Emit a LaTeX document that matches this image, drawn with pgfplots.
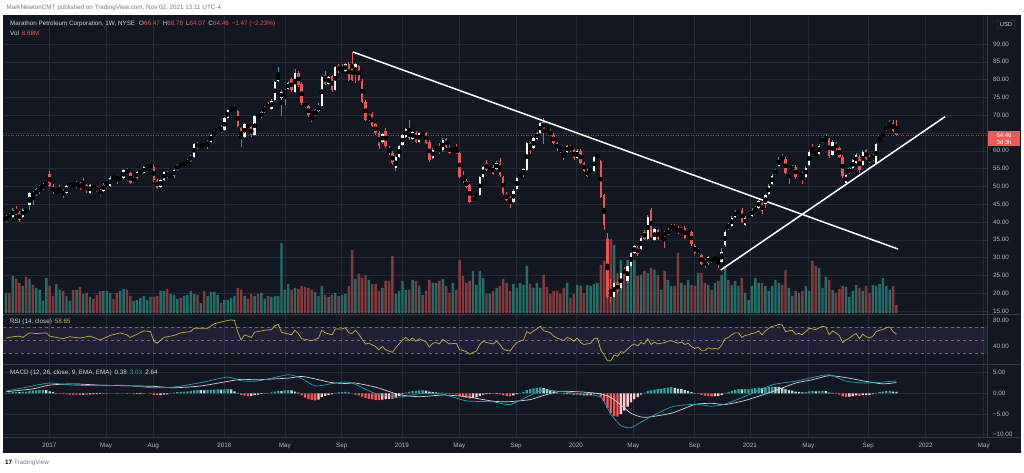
\documentclass[border=0pt]{standalone}
\usepackage{fontspec}
\setmainfont{Liberation Sans}
\usepackage{pgfplots}
\pgfplotsset{compat=1.18}
\usepackage{pgfplotstable}

\definecolor{bg}{HTML}{131722}
\definecolor{gridc}{HTML}{252935}
\definecolor{sep}{HTML}{363A45}
\definecolor{txt}{HTML}{B2B5BE}
\definecolor{hdr}{HTML}{D1D4DC}
\definecolor{upc}{HTML}{26A69A}
\definecolor{upbody}{HTML}{F4F9F8}
\definecolor{dnc}{HTML}{EF5350}
\definecolor{volup}{HTML}{22706A}
\definecolor{voldn}{HTML}{873A3C}
\definecolor{rsic}{HTML}{C2B23A}
\definecolor{rsipurple}{HTML}{7E57C2}
\definecolor{dashc}{HTML}{6A6D78}
\definecolor{macdc}{HTML}{1FA2B8}
\definecolor{sigc}{HTML}{D5D5D5}
\definecolor{hA}{HTML}{26A69A}
\definecolor{hB}{HTML}{B2DFDB}
\definecolor{hC}{HTML}{FF5252}
\definecolor{hD}{HTML}{FFCDD2}
\definecolor{lastp}{HTML}{A23A3E}
\definecolor{pbox}{HTML}{F05A59}
\definecolor{tvgray}{HTML}{787B86}

\pgfplotstableread{
i o h l c v
0 40.6 41.9 40.1 41.3 20
1 41.9 42.5 40.8 41.3 20
2 41.5 44.0 41.2 43.5 37
3 43.5 44.4 41.9 42.3 34
4 42.5 43.0 39.9 40.6 30
5 41.5 43.9 41.2 43.5 27
6 43.3 43.6 42.6 43.0 36
7 44.8 48.5 43.5 48.1 34
8 48.0 48.6 44.8 47.5 28
9 47.9 49.6 47.3 49.2 25
10 49.4 50.3 47.8 49.8 23
11 49.5 50.9 49.1 50.5 12
12 50.5 51.2 50.0 50.8 35
13 53.6 54.4 49.7 50.0 27
14 50.0 50.6 47.8 48.3 17
15 48.4 49.1 47.9 48.7 29
16 48.7 50.3 48.3 48.9 23
17 48.9 49.3 46.8 47.7 22
18 48.2 50.4 47.9 50.0 17
19 50.0 50.8 49.6 50.3 12
20 50.4 50.9 49.8 50.2 23
21 50.0 51.4 49.6 51.0 23
22 50.9 51.2 49.0 49.6 26
23 50.0 52.4 49.6 50.5 19
24 50.3 50.7 48.1 48.6 20
25 48.2 50.8 48.0 50.4 16
26 50.5 50.9 49.5 49.9 14
27 49.8 50.2 48.4 48.8 18
28 48.8 49.2 47.2 48.0 22
29 48.8 50.9 48.5 50.5 22
30 50.5 51.5 50.1 51.0 22
31 50.0 52.9 49.8 52.5 20
32 52.5 53.3 51.7 52.2 14
33 52.8 53.1 50.8 52.2 20
34 52.0 52.8 51.7 52.4 22
35 52.3 54.8 52.0 54.5 24
36 54.6 55.2 53.4 53.8 23
37 53.7 54.0 50.6 51.0 17
38 51.3 52.7 50.9 52.3 12
39 52.3 54.3 52.0 54.0 13
40 54.0 54.6 53.5 54.1 15
41 53.8 55.7 53.5 55.4 17
42 55.5 56.6 55.1 55.6 13
43 55.7 56.2 55.2 55.8 16
44 55.5 56.0 51.3 51.8 16
45 51.8 52.2 49.2 49.6 17
46 49.8 52.2 49.5 51.8 22
47 51.8 54.3 51.5 54.0 22
48 53.8 54.2 52.3 52.8 24
49 52.9 53.4 52.4 53.0 19
50 52.8 55.0 52.5 54.6 18
51 54.6 56.3 54.3 56.0 14
52 56.2 56.5 55.5 55.9 15
53 55.9 56.9 55.6 56.5 17
54 56.4 57.6 56.1 57.2 18
55 57.2 58.9 56.9 58.5 22
56 58.4 62.3 58.1 61.9 19
57 62.0 62.6 60.6 61.0 18
58 61.3 62.0 60.8 61.5 10
59 62.0 62.3 60.8 61.3 22
60 61.6 62.9 60.5 62.5 17
61 62.6 64.7 62.3 64.4 21
62 64.4 65.6 64.1 65.3 21
63 65.5 66.5 65.2 66.2 18
64 66.2 67.2 65.1 65.5 10
65 65.8 69.4 65.5 69.1 13
66 69.1 71.7 68.8 71.4 13
67 71.4 72.4 71.1 71.6 15
68 71.6 72.9 71.2 71.8 17
69 71.3 71.6 66.6 67.0 25
70 66.3 66.7 61.0 63.5 23
71 64.0 67.9 63.7 67.5 17
72 67.2 67.6 66.2 66.6 14
73 66.6 66.9 64.0 64.4 19
74 64.4 70.0 64.1 69.7 17
75 69.9 70.3 69.1 69.5 19
76 69.4 71.2 69.1 70.9 20
77 70.9 72.6 70.6 72.3 14
78 72.5 73.6 71.4 71.8 17
79 71.8 74.6 71.5 74.1 16
80 74.3 79.7 74.0 79.4 17
81 79.7 83.6 79.4 81.3 17
82 74.7 77.2 69.9 76.6 70
83 76.0 77.5 73.0 77.0 23
84 77.3 79.5 77.0 79.1 29
85 80.1 80.5 76.6 77.0 23
86 76.6 83.0 76.3 81.9 25
87 81.9 82.3 78.0 78.4 24
88 78.8 79.2 72.9 73.3 27
89 73.3 73.7 72.1 72.5 26
90 72.5 72.9 69.6 70.0 25
91 69.9 70.3 68.0 69.8 23
92 70.0 71.8 69.7 71.4 21
93 71.3 73.4 71.0 72.5 17
94 72.6 80.9 72.3 80.6 27
95 81.2 82.5 78.5 78.9 18
96 78.9 80.9 78.6 80.6 16
97 81.0 81.4 76.5 77.0 18
98 77.1 83.9 76.8 83.6 20
99 83.8 84.3 81.9 82.3 17
100 82.3 84.4 81.8 82.5 18
101 82.3 84.8 82.0 84.4 19
102 84.4 85.0 79.6 80.0 27
103 84.0 87.8 79.5 80.0 63
104 81.3 84.8 79.0 84.4 34
105 83.8 84.2 79.6 80.0 39
106 79.7 80.1 73.4 73.8 35
107 73.8 74.2 68.3 68.7 38
108 69.0 70.2 68.5 69.3 33
109 70.3 70.8 66.6 67.0 29
110 67.5 67.9 64.4 64.9 29
111 65.1 65.5 60.5 61.3 22
112 62.4 65.1 62.0 64.7 25
113 65.6 66.4 60.8 61.3 32
114 60.9 61.3 58.8 59.3 32
115 59.5 59.9 56.0 56.5 57
116 55.1 58.5 54.2 58.2 19
117 58.3 61.6 58.0 61.3 22
118 61.6 64.7 61.3 64.4 32
119 64.0 66.3 63.7 66.0 23
120 65.6 68.6 63.1 63.5 23
121 63.3 65.7 63.0 65.4 33
122 65.1 65.5 62.2 62.6 32
123 62.6 65.3 62.3 64.9 27
124 64.7 65.0 64.2 64.6 18
125 64.9 65.3 61.9 62.3 22
126 62.6 63.0 56.9 57.4 33
127 57.9 60.7 57.6 60.3 30
128 60.6 61.2 60.2 60.8 30
129 60.8 62.3 59.2 59.6 32
130 60.1 63.5 59.8 63.1 34
131 63.3 63.7 60.8 61.2 27
132 61.2 61.6 59.1 59.5 20
133 60.0 60.6 59.6 60.2 30
134 60.3 61.9 59.2 59.6 23
135 59.3 59.7 52.3 52.7 53
136 52.4 54.2 50.9 51.8 37
137 51.6 52.0 49.5 49.9 30
138 50.4 50.8 45.3 45.7 32
139 46.0 47.3 45.6 46.9 42
140 47.3 48.2 47.0 47.8 28
141 47.6 53.0 47.3 52.7 42
142 52.7 55.8 52.4 55.5 35
143 56.6 57.4 54.2 54.6 19
144 54.8 55.7 54.4 55.3 19
145 55.5 55.9 53.2 53.6 22
146 54.9 57.0 54.6 56.5 25
147 56.3 57.9 52.7 53.1 27
148 52.6 53.0 47.7 48.1 34
149 48.0 48.4 45.9 46.3 30
150 47.0 47.4 44.0 45.4 22
151 45.6 49.2 45.3 48.8 29
152 49.3 52.6 49.0 52.3 25
153 52.4 53.6 52.1 53.2 30
154 53.4 55.1 52.7 54.8 28
155 54.6 62.4 54.3 62.1 47
156 62.1 62.5 59.0 60.7 29
157 60.7 63.8 60.4 63.5 25
158 63.3 65.4 63.0 65.1 30
159 65.1 68.0 64.8 67.7 25
160 68.2 69.2 62.0 66.1 38
161 66.6 67.0 65.5 65.9 26
162 65.4 66.0 64.1 64.5 19
163 64.5 64.9 61.8 62.2 22
164 62.2 62.6 60.0 60.4 22
165 60.8 61.2 59.5 59.9 19
166 59.3 59.7 57.5 58.6 25
167 59.7 61.7 59.4 61.3 30
168 61.3 61.7 59.8 60.2 15
169 60.2 60.6 57.5 57.9 19
170 57.9 60.4 57.6 60.0 28
171 60.0 60.4 56.2 56.6 27
172 56.5 56.9 54.0 54.4 20
173 53.0 54.8 52.6 54.4 28
174 54.4 55.0 54.0 54.6 27
175 54.4 58.6 54.1 58.3 29
176 58.3 59.4 57.9 58.8 30
177 57.0 57.4 46.7 47.1 48
178 47.6 48.0 37.7 39.2 52
179 35.1 36.9 18.5 19.0 75
180 20.5 24.0 17.2 18.6 74
181 19.0 23.5 18.6 23.0 68
182 22.8 23.5 20.0 20.5 40
183 21.4 26.0 21.0 25.6 53
184 26.8 27.4 24.8 25.2 43
185 23.4 28.0 23.0 27.6 53
186 27.6 31.7 27.3 31.3 47
187 31.3 33.6 31.0 33.2 53
188 32.8 33.4 30.5 30.9 37
189 32.3 36.0 32.0 35.6 38
190 37.2 37.8 34.9 35.3 42
191 35.3 41.9 35.0 41.5 40
192 43.4 43.9 35.4 35.8 45
193 35.0 38.3 34.6 37.9 43
194 37.7 38.1 34.9 35.3 38
195 35.6 36.4 35.2 35.9 23
196 37.2 37.6 32.7 36.1 42
197 36.6 38.3 36.3 37.9 33
198 38.1 39.4 37.8 38.9 27
199 38.4 39.4 37.5 37.9 27
200 38.4 38.8 36.5 36.9 60
201 37.1 38.5 36.8 38.1 30
202 38.4 38.8 35.2 35.6 28
203 36.8 37.3 36.4 36.9 33
204 37.2 37.6 33.4 33.8 28
205 33.3 33.7 31.0 31.4 27
206 31.4 32.7 31.0 32.3 40
207 30.7 31.1 27.8 28.2 40
208 29.2 29.6 27.1 28.2 30
209 28.4 30.5 28.0 30.1 28
210 29.9 30.3 28.5 28.9 23
211 29.6 30.2 29.2 29.8 30
212 29.6 30.0 27.2 29.2 32
213 28.7 32.8 28.4 31.5 38
214 33.5 37.7 33.1 37.3 47
215 39.3 39.8 37.7 38.1 33
216 38.9 41.6 38.6 41.2 28
217 41.5 43.5 41.2 43.1 32
218 42.4 43.5 42.1 43.1 27
219 43.4 43.8 39.6 40.0 35
220 39.3 41.6 39.0 41.2 20
221 41.5 42.5 41.2 42.1 13
222 41.8 43.8 41.5 43.4 27
223 43.1 44.4 42.8 44.0 35
224 44.0 46.3 43.7 45.9 30
225 45.3 45.7 42.3 43.1 30
226 45.0 48.0 44.0 47.6 27
227 47.8 50.6 47.5 50.2 22
228 50.7 53.4 50.4 53.0 27
229 53.6 54.8 53.3 54.4 33
230 55.7 58.4 55.4 57.4 30
231 57.8 59.0 57.1 57.5 28
232 57.8 58.2 53.4 53.8 43
233 53.8 55.0 50.7 54.6 25
234 54.6 55.9 54.3 55.5 17
235 55.5 55.9 52.2 52.6 22
236 53.2 54.2 52.9 53.8 20
237 53.6 54.0 50.8 52.7 22
238 52.7 55.7 52.4 55.3 27
239 56.0 60.1 55.7 59.7 22
240 60.1 61.8 59.2 59.6 52
241 59.6 60.0 58.6 59.0 47
242 59.2 61.8 58.9 61.4 45
243 62.6 63.8 62.3 63.4 25
244 63.0 64.6 62.6 63.2 36
245 63.2 63.6 58.1 58.5 33
246 58.8 62.9 58.5 62.5 23
247 62.1 62.5 60.3 60.7 20
248 60.7 61.1 58.0 58.4 24
249 58.4 58.8 52.5 52.9 27
250 51.0 53.6 50.6 53.2 26
251 53.7 55.5 53.4 55.1 16
252 55.1 57.7 54.8 57.3 22
253 56.5 59.3 56.2 58.9 28
254 58.4 58.8 53.8 54.6 25
255 56.0 60.1 55.7 59.7 22
256 60.1 60.5 57.4 57.8 27
257 58.3 58.7 56.5 56.9 20
258 57.4 59.2 57.1 58.8 28
259 56.7 62.2 56.4 61.8 27
260 62.8 63.9 62.5 63.5 29
261 64.1 65.3 63.8 64.9 35
262 66.0 67.2 65.7 66.8 27
263 66.8 68.6 66.5 67.4 23
264 67.7 68.6 65.2 65.6 27
265 66.47 68.78 64.07 64.46 8
}\candles

\pgfplotsset{
  tvbase/.style={
    scale only axis, width=984pt, xmin=-0.89, xmax=291.96,
    axis line style={draw=none}, tick style={draw=none}, major tick length=0pt,
    xtick={12.9,29.8,43.8,65.0,83.0,99.9,117.8,134.9,151.8,169.6,186.7,204.9,221.4,238.8,256.6,273.7,291.0},
    xmajorgrids=true, major grid style={draw=gridc, line width=0.6pt},
    yticklabel pos=right,
    ticklabel style={font=\fontsize{6.3}{7}\selectfont, text=txt},
    yticklabel style={anchor=west, xshift=2.5pt},
  },
  ovl/.style={hide axis, scale only axis, width=984pt, xmin=-0.89, xmax=291.96},
  upsel/.style={restrict expr to domain={\thisrow{c}-\thisrow{o}}{0:1000}},
  dnsel/.style={restrict expr to domain={\thisrow{c}-\thisrow{o}}{-1000:-0.0001}},
}

\begin{document}
\begin{tikzpicture}
\useasboundingbox (0,0) rectangle (1024pt,473pt);
\fill[white] (0,0) rectangle (1024pt,473pt);
\fill[bg] (3pt,20pt) rectangle (1021pt,458pt);

% ---------- price panel grid ----------
\begin{axis}[tvbase, at={(3pt,458pt)}, anchor=north west, height=300pt,
  ymin=13.88, ymax=98.15, ymajorgrids=true,
  ytick={15,20,25,30,35,40,45,50,55,60,65,70,75,80,85,90},
  yticklabels={15.00,20.00,25.00,30.00,35.00,40.00,45.00,50.00,55.00,60.00,,70.00,75.00,80.00,85.00,90.00},
  xticklabels={}]
\addplot[lastp, dash pattern=on 1pt off 1.5pt, line width=0.7pt] coordinates {(-0.89,64.46) (291.96,64.46)};
\end{axis}

% ---------- volume ----------
\begin{axis}[ovl, at={(3pt,458pt)}, anchor=north west, height=300pt, ymin=-2, ymax=298]
\addplot[ybar, bar width=2.4pt, bar shift=0pt, fill=volup, draw=none, upsel] table[x=i, y=v] {\candles};
\addplot[ybar, bar width=2.4pt, bar shift=0pt, fill=voldn, draw=none, dnsel] table[x=i, y=v] {\candles};
\end{axis}

% ---------- candles ----------
\begin{axis}[ovl, at={(3pt,458pt)}, anchor=north west, height=300pt, ymin=13.88, ymax=98.15]
% wicks
\addplot[only marks, mark=none, upsel,
  error bars/.cd, y dir=both, y explicit, error mark=none,
  error bar style={color=upc, line width=0.7pt}]
  table[x=i, y expr={(\thisrow{h}+\thisrow{l})/2}, y error expr={(\thisrow{h}-\thisrow{l})/2}] {\candles};
\addplot[only marks, mark=none, dnsel,
  error bars/.cd, y dir=both, y explicit, error mark=none,
  error bar style={color=dnc, line width=0.7pt}]
  table[x=i, y expr={(\thisrow{h}+\thisrow{l})/2}, y error expr={(\thisrow{h}-\thisrow{l})/2}] {\candles};
% bodies
\addplot[only marks, mark=none, upsel,
  error bars/.cd, y dir=both, y explicit, error mark=none,
  error bar style={color=upbody, line width=2.4pt}]
  table[x=i, y expr={(\thisrow{o}+\thisrow{c})/2}, y error expr={max(abs(\thisrow{c}-\thisrow{o})/2,0.15)}] {\candles};
\addplot[only marks, mark=none, dnsel,
  error bars/.cd, y dir=both, y explicit, error mark=none,
  error bar style={color=dnc, line width=2.4pt}]
  table[x=i, y expr={(\thisrow{o}+\thisrow{c})/2}, y error expr={max(abs(\thisrow{c}-\thisrow{o})/2,0.15)}] {\candles};
% trend lines
\addplot[white, line width=1.5pt] coordinates {(103.3,87.75) (265.5,32.4)};
\addplot[white, line width=1.5pt] coordinates {(212.7,26.5) (279.5,69.6)};
\end{axis}

% ---------- RSI ----------
\begin{axis}[tvbase, at={(3pt,158pt)}, anchor=north west, height=50pt,
  ymin=11.5, ymax=88.5, ytick={40,80}, yticklabels={40.00,80.00}, xticklabels={}]
\fill[rsipurple, fill opacity=0.13] (axis cs:-0.89,30) rectangle (axis cs:291.96,70);
\addplot[dashc, dash pattern=on 3pt off 3pt, line width=0.5pt] coordinates {(-0.89,70) (291.96,70)};
\addplot[dashc, dash pattern=on 3pt off 3pt, line width=0.5pt] coordinates {(-0.89,50) (291.96,50)};
\addplot[dashc, dash pattern=on 3pt off 3pt, line width=0.5pt] coordinates {(-0.89,30) (291.96,30)};
\addplot[rsic, line width=0.7pt] coordinates {
(0,53)(2,55)(4,56)(5,54)(7,61)(9,60)(12,61)(13,56)(15,54)(17,52)(19,55)(22,53)(25,56)(27,52)(28,50)(31,57)(34,61)(36,58)(37,54)(39,59)(41,64)(43,63)(44,48)(45,45)(47,54)(50,57)(52,61)(55,63)(56,68)(58,68)(60,68)(62,75)(65,79)(67,81)(68,80)(69,62)(70,50)(71,58)(73,54)(74,62)(77,65)(79,66)(80,72)(81,74)(82,62)(85,58)(86,65)(87,60)(88,52)(90,50)(91,49)(93,53)(94,65)(95,61)(97,58)(98,67)(100,67)(101,69)(102,61)(103,60)(104,65)(105,59)(106,51)(107,44)(108,45)(110,40)(111,35)(112,40)(113,35)(114,33)(115,31)(116,38)(117,44)(118,50)(119,54)(120,49)(121,53)(122,48)(123,52)(125,47)(126,39)(127,45)(128,46)(129,44)(130,51)(131,47)(132,44)(134,45)(135,35)(136,34)(137,32)(138,28)(139,31)(140,33)(141,43)(142,48)(143,46)(145,44)(146,48)(147,43)(148,36)(149,34)(150,33)(151,40)(152,46)(153,48)(154,50)(155,63)(156,60)(157,64)(158,67)(159,71)(160,64)(161,63)(162,61)(163,56)(164,53)(165,51)(166,49)(167,54)(168,52)(169,48)(170,53)(171,46)(172,43)(173,44)(174,45)(175,52)(176,53)(177,35)(178,27)(179,18)(180,18)(181,27)(182,25)(183,32)(184,31)(185,36)(186,41)(187,44)(188,41)(189,46)(190,44)(191,52)(192,43)(193,47)(194,44)(195,45)(196,46)(197,48)(198,49)(199,47)(200,45)(201,47)(202,43)(203,45)(204,40)(205,37)(206,39)(207,34)(208,34)(209,38)(210,36)(211,37)(212,36)(213,42)(214,52)(215,54)(216,58)(217,61)(218,61)(219,54)(220,57)(221,58)(222,60)(223,61)(224,64)(225,58)(226,64)(227,68)(228,71)(229,72)(230,74)(231,73)(232,63)(233,64)(234,65)(235,59)(236,60)(237,58)(238,63)(239,68)(240,67)(241,66)(242,69)(243,71)(244,70)(245,58)(246,64)(247,61)(248,57)(249,46)(250,50)(251,53)(252,57)(253,60)(254,52)(255,59)(256,55)(257,53)(258,56)(259,63)(260,65)(261,66)(262,69)(263,70)(264,63)(265,58.85)};
\end{axis}

% ---------- MACD ----------
\begin{axis}[tvbase, at={(3pt,108pt)}, anchor=north west, height=73pt,
  ymin=-10.8, ymax=6.87, ymajorgrids=true, ytick={-10,-5,0,5},
  yticklabels={−10.00,−5.00,0.00,5.00},
  xticklabels={2017,May,Aug,2018,May,Sep,2019,May,Sep,2020,May,Sep,2021,May,Sep,2022,May},
  xticklabel style={anchor=north, yshift=-2pt}]
\addplot[ybar, bar width=2.3pt, bar shift=0pt, fill=hA, draw=none] coordinates {
(0,.15)(1,.20)(2,.28)(3,.33)(5,.38)(6,.45)(7,.60)(8,.70)(9,.75)(10,.80)(11,.82)(31,.05)(32,.06)(34,.05)(35,.10)(42,.03)(49,.10)(50,.20)(51,.30)(52,.35)(53,.42)(54,.50)(55,.60)(56,.75)(57,.80)(60,.78)(61,.85)(62,.92)(63,.98)(65,.95)(66,1.05)(78,.15)(79,.25)(80,.40)(81,.60)(83,.70)(84,.80)(98,.15)(99,.25)(100,.30)(101,.35)(119,.20)(120,.35)(121,.55)(122,.60)(123,.70)(124,.72)(130,.18)(153,.10)(154,.35)(155,.80)(156,1.00)(157,1.20)(158,1.35)(159,1.45)(190,.20)(191,.60)(192,.70)(193,.90)(194,1.00)(195,1.10)(196,1.30)(197,1.40)(198,1.50)(214,.10)(215,.35)(216,.60)(217,.85)(218,1.00)(220,1.00)(221,1.05)(222,1.15)(223,1.25)(224,1.40)(226,1.40)(227,1.55)(228,1.65)(238,.30)(239,.50)(240,.55)(242,.55)(243,.60)(259,.10)(260,.30)(261,.45)(262,.55)(263,.58)};
\addplot[ybar, bar width=2.3pt, bar shift=0pt, fill=hB, draw=none] coordinates {
(4,.30)(12,.78)(13,.50)(14,.30)(33,.04)(36,.08)(58,.78)(59,.75)(64,.90)(67,.95)(68,.50)(69,.15)(82,.55)(85,.70)(86,.40)(87,.20)(102,.20)(103,.02)(125,.65)(126,.40)(127,.30)(128,.25)(129,.15)(131,.08)(160,1.30)(161,1.05)(162,.80)(163,.50)(164,.20)(199,1.35)(200,1.15)(201,1.00)(202,.80)(203,.60)(204,.30)(205,.05)(219,.95)(225,1.30)(229,1.60)(230,1.55)(231,1.35)(232,1.00)(233,.80)(234,.65)(235,.45)(236,.35)(237,.25)(241,.50)(244,.55)(245,.20)(246,.10)(264,.45)(265,.38)};
\addplot[ybar, bar width=2.3pt, bar shift=0pt, fill=hC, draw=none] coordinates {
(15,-.10)(16,-.15)(17,-.20)(18,-.25)(19,-.28)(20,-.30)(21,-.32)(22,-.35)(24,-.32)(37,-.05)(38,-.20)(43,-.15)(44,-.35)(45,-.45)(70,-.35)(71,-.55)(72,-.65)(88,-.50)(89,-1.0)(90,-1.4)(91,-1.6)(92,-1.7)(104,-.30)(105,-.50)(106,-.80)(107,-1.1)(108,-1.3)(109,-1.45)(110,-1.55)(111,-1.65)(115,-1.35)(132,-.10)(133,-.15)(134,-.25)(135,-.60)(136,-.85)(137,-1.0)(138,-1.2)(145,-.15)(147,-.25)(148,-.50)(149,-.65)(150,-.70)(165,-.05)(166,-.25)(168,-.25)(169,-.35)(171,-.40)(172,-.55)(177,-.80)(178,-1.8)(179,-3.5)(180,-4.8)(181,-5.5)(182,-5.6)(206,-.15)(207,-.35)(208,-.55)(209,-.60)(210,-.70)(247,-.10)(248,-.30)(249,-.75)(250,-.85)(254,-.60)};
\addplot[ybar, bar width=2.3pt, bar shift=0pt, fill=hD, draw=none] coordinates {
(23,-.30)(25,-.25)(26,-.20)(27,-.18)(28,-.15)(29,-.08)(30,-.05)(39,-.15)(40,-.10)(41,-.05)(46,-.40)(47,-.30)(48,-.22)(73,-.60)(74,-.40)(75,-.30)(76,-.15)(77,-.05)(93,-1.5)(94,-.90)(95,-.60)(96,-.40)(97,-.25)(112,-1.5)(113,-1.4)(114,-1.3)(116,-1.0)(117,-.60)(118,-.20)(139,-1.1)(140,-.95)(141,-.65)(142,-.30)(143,-.20)(144,-.10)(146,-.10)(151,-.50)(152,-.20)(167,-.20)(170,-.25)(173,-.50)(174,-.40)(175,-.20)(176,-.10)(183,-5.0)(184,-4.2)(185,-3.2)(186,-2.2)(187,-1.4)(188,-.90)(189,-.30)(211,-.65)(212,-.60)(213,-.40)(251,-.80)(252,-.65)(253,-.50)(255,-.45)(256,-.40)(257,-.35)(258,-.20)};
\addplot[sigc, line width=0.7pt, smooth, tension=0.4] coordinates {
(0,0.4)(8,1.1)(13,2.0)(20,2.3)(28,2.0)(35,1.85)(44,1.7)(50,1.35)(58,1.8)(66,2.9)(70,3.4)(75,3.3)(84,3.7)(88,4.1)(92,3.5)(97,2.6)(101,2.4)(104,2.5)(110,1.5)(117,-0.3)(123,-0.8)(130,-0.4)(137,-0.8)(145,-1.9)(150,-2.0)(156,-1.5)(160,-0.5)(165,0.5)(172,0.3)(177,-0.1)(180,-1.0)(183,-2.8)(186,-4.8)(190,-5.8)(198,-4.8)(205,-2.7)(210,-2.4)(214,-2.7)(220,-1.7)(228,0.4)(235,2.5)(240,3.3)(245,4.3)(250,3.8)(256,2.9)(261,2.3)(265,2.64)};
\addplot[macdc, line width=0.7pt, smooth, tension=0.4] coordinates {
(0,0.55)(8,1.8)(13,2.5)(20,2.0)(28,1.85)(35,1.95)(44,1.35)(50,1.55)(58,2.6)(66,3.95)(70,3.05)(75,3.0)(84,4.5)(88,3.6)(92,1.8)(97,2.35)(101,2.75)(104,2.2)(110,-0.05)(117,-0.9)(123,-0.1)(130,-0.2)(137,-1.8)(145,-2.05)(150,-2.7)(156,-0.5)(160,0.8)(165,0.45)(172,-0.25)(177,-0.9)(180,-5.0)(183,-7.8)(186,-8.3)(190,-6.5)(198,-3.3)(205,-2.65)(210,-3.1)(214,-2.6)(220,-0.7)(228,2.05)(235,2.95)(240,3.85)(245,4.5)(250,2.95)(256,2.5)(261,2.75)(265,3.03)};
\end{axis}

% ---------- separators ----------
\draw[sep, line width=1pt] (3pt,158pt) -- (1021pt,158pt);
\draw[sep, line width=1pt] (3pt,108pt) -- (1021pt,108pt);
\draw[sep, line width=1pt] (3pt,35pt) -- (1021pt,35pt);
\draw[sep, line width=0.8pt] (987pt,35pt) -- (987pt,458pt);

% ---------- last price box ----------
\fill[pbox] (988pt,327pt) rectangle (1020pt,342pt);
\node[font=\fontsize{6}{6.5}\selectfont, text=white] at (1004pt,337.5pt) {64.46};
\node[font=\fontsize{6}{6.5}\selectfont, text=white] at (1004pt,330.5pt) {3d 3h};
% USD box
\draw[sep, rounded corners=1.5pt, fill=bg] (997pt,444pt) rectangle (1015pt,453pt);
\node[font=\fontsize{5.8}{6}\selectfont, text=hdr] at (1006pt,448.5pt) {USD};

% ---------- texts ----------
\node[anchor=west, font=\fontsize{6.3}{7}\selectfont, text=tvgray] at (3pt,465pt) {MarkNewtonCMT published on TradingView.com, Nov 02, 2021 13:11 UTC-4};
\node[anchor=west, font=\fontsize{6.3}{7}\selectfont, inner sep=1pt] at (9pt,449pt) {\color{hdr}Marathon Petroleum Corporation, 1W, NYSE\hspace{4pt}O\color{dnc}66.47\hspace{3pt}\color{hdr}H\color{dnc}68.78\hspace{3pt}\color{hdr}L\color{dnc}64.07\hspace{3pt}\color{hdr}C\color{dnc}64.46\hspace{3pt}−1.47 (−2.23\%)};
\node[anchor=west, font=\fontsize{6.3}{7}\selectfont, inner sep=1pt] at (9pt,440pt) {\color{hdr}Vol\hspace{3pt}\color{dnc}8.68M};
\node[anchor=west, font=\fontsize{6.3}{7}\selectfont, inner sep=1pt] at (9pt,151pt) {\color{hdr}RSI (14, close)\hspace{3pt}\color{rsic}58.85};
\node[anchor=west, font=\fontsize{6.3}{7}\selectfont, inner sep=1pt] at (9pt,100pt) {\color{hdr}MACD (12, 26, close, 9, EMA, EMA)\hspace{3pt}\color{hB}0.38\hspace{3pt}\color{macdc}3.03\hspace{3pt}\color{sigc}2.64};
\node[anchor=west, font=\fontsize{6.3}{7}\selectfont, inner sep=1pt] at (4pt,10pt) {\textbf{\color{black}17}\hspace{2pt}\color{tvgray}TradingView};
\end{tikzpicture}
\end{document}
